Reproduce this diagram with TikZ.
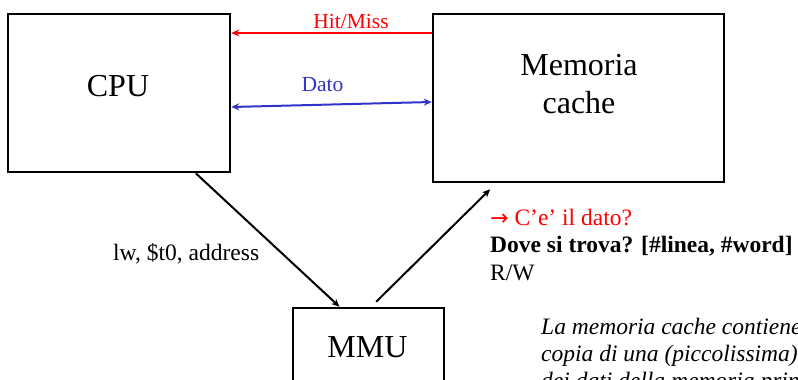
\documentclass[tikz,border=0pt]{standalone}
\usepackage{fontspec}
\setmainfont{Liberation Serif}
\newfontfamily\symfont{DejaVu Sans}
\usetikzlibrary{arrows.meta,calc}
\definecolor{datoblue}{RGB}{51,51,204}
\tikzset{
  box/.style={draw=black, line width=2.5pt, inner sep=0pt},
  bigtxt/.style={font=\fontsize{32}{38}\selectfont, inner sep=0pt, align=center},
  lbl/.style={font=\fontsize{21.5}{25}\selectfont, inner sep=0pt, anchor=base},
  midtxt/.style={font=\fontsize{23.5}{27}\selectfont, inner sep=0pt, anchor=base west},
  conn/.style={line width=2pt, -{Stealth[length=8pt,width=7pt]}},
}
\begin{document}
\begin{tikzpicture}[x=1pt,y=-1pt]
\useasboundingbox (0,0) rectangle (798,380);
\clip (0,0) rectangle (798,380);
% boxes
\node[box, minimum width=222pt, minimum height=158pt] (cpu) at (119,93) {};
\node[bigtxt] (cputxt) at (118,86) {CPU};
\node[box, minimum width=291pt, minimum height=168pt] (cache) at (578.5,98) {};
\node[bigtxt] (cachetxt) at (579,84) {Memoria\\cache};
\node[box, minimum width=151pt, minimum height=120pt] (mmu) at (368.5,368) {};
\node[bigtxt] (mmutxt) at (367.5,347.5) {MMU};
% connectors
\draw[conn, red] ([yshift=65pt]cache.west) -- ([yshift=60pt]cpu.east);
\draw[line width=2pt, datoblue, {Stealth[length=8pt,width=7pt]}-{Stealth[length=8pt,width=7pt]}]
  ([yshift=-14pt]cpu.east) -- ([yshift=-4pt]cache.west);
\draw[conn] ($(cpu.south west)!0.842!(cpu.south east)$) -- ($(mmu.north west)!0.311!(mmu.north east)$);
\draw[conn] ($(mmu.north west)!0.55!(mmu.north east)+(0,-5)$) -- ($(cache.south west)!0.199!(cache.south east)+(0,6)$);
% labels
\node[lbl, red] (hit) at (351,28) {Hit/Miss};
\node[lbl, datoblue] (dato) at (322.5,91) {Dato};
\node[midtxt] (lw) at (113,260) {lw, \$t0, address};
\node[midtxt, red] (q1) at (490,225) {{\symfont\fontsize{22}{27}\selectfont →} C’e’ il dato?};
\node[midtxt, font=\fontsize{23.5}{27}\selectfont\bfseries] (q2) at (490,252) {Dove si trova? [\#linea, \#word]};
\node[midtxt] (q3) at (490,280) {R/W};
\node[midtxt, font=\fontsize{23.5}{27}\selectfont\itshape] (n1) at (541,334) {La memoria cache contiene una};
\node[midtxt, font=\fontsize{23.5}{27}\selectfont\itshape] (n2) at (541,361) {copia di una (piccolissima) parte};
\node[midtxt, font=\fontsize{23.5}{27}\selectfont\itshape] (n3) at (541,388) {dei dati della memoria principale};
\end{tikzpicture}
\end{document}
